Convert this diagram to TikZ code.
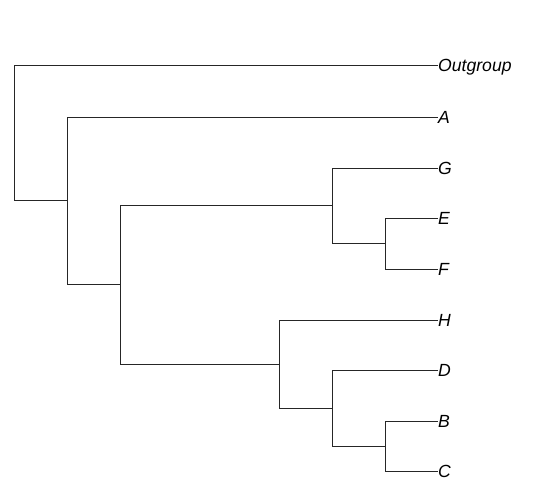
\documentclass[tikz,border=0pt]{standalone}
\usepackage{fontspec}
\setmainfont{Liberation Sans}
\begin{document}
\begin{tikzpicture}[x=1pt,y=-1pt,
  branch/.style={draw=black!85,line width=1pt},
  tip/.style={anchor=base west,inner sep=0pt,yshift=-6.2pt,font=\fontsize{17.6}{20}\selectfont\itshape}]
\useasboundingbox (0,0) rectangle (549,497);
% tips
\coordinate (tOut) at (438,65.5);
\coordinate (tA) at (438,117.5);
\coordinate (tG) at (438,168.5);
\coordinate (tE) at (438,218.5);
\coordinate (tF) at (438,269.5);
\coordinate (tH) at (438,320.5);
\coordinate (tD) at (438,370.5);
\coordinate (tB) at (438,421.5);
\coordinate (tC) at (438,471.5);
\node[tip] (lOut) at (tOut) {Outgroup};
\node[tip] (lA) at (tA) {A};
\node[tip] (lG) at (tG) {G};
\node[tip] (lE) at (tE) {E};
\node[tip] (lF) at (tF) {F};
\node[tip] (lH) at (tH) {H};
\node[tip] (lD) at (tD) {D};
\node[tip] (lB) at (tB) {B};
\node[tip] (lC) at (tC) {C};
% internal nodes
\coordinate (nEF) at (385.5,243.5);
\coordinate (nGEF) at (332.5,205.5);
\coordinate (nBC) at (385.5,446.5);
\coordinate (nDBC) at (332.5,408.5);
\coordinate (nH) at (279.5,364.5);
\coordinate (nBig) at (120.5,284.5);
\coordinate (nA) at (67.5,200.5);
\coordinate (root) at (14.5,133.5);
% branches
\draw[branch] (root) |- (tOut);
\draw[branch] (root) |- (nA);
\draw[branch] (nA) |- (tA);
\draw[branch] (nA) |- (nBig);
\draw[branch] (nBig) |- (nGEF);
\draw[branch] (nBig) |- (nH);
\draw[branch] (nGEF) |- (tG);
\draw[branch] (nGEF) |- (nEF);
\draw[branch] (nEF) |- (tE);
\draw[branch] (nEF) |- (tF);
\draw[branch] (nH) |- (tH);
\draw[branch] (nH) |- (nDBC);
\draw[branch] (nDBC) |- (tD);
\draw[branch] (nDBC) |- (nBC);
\draw[branch] (nBC) |- (tB);
\draw[branch] (nBC) |- (tC);
\end{tikzpicture}
\end{document}
